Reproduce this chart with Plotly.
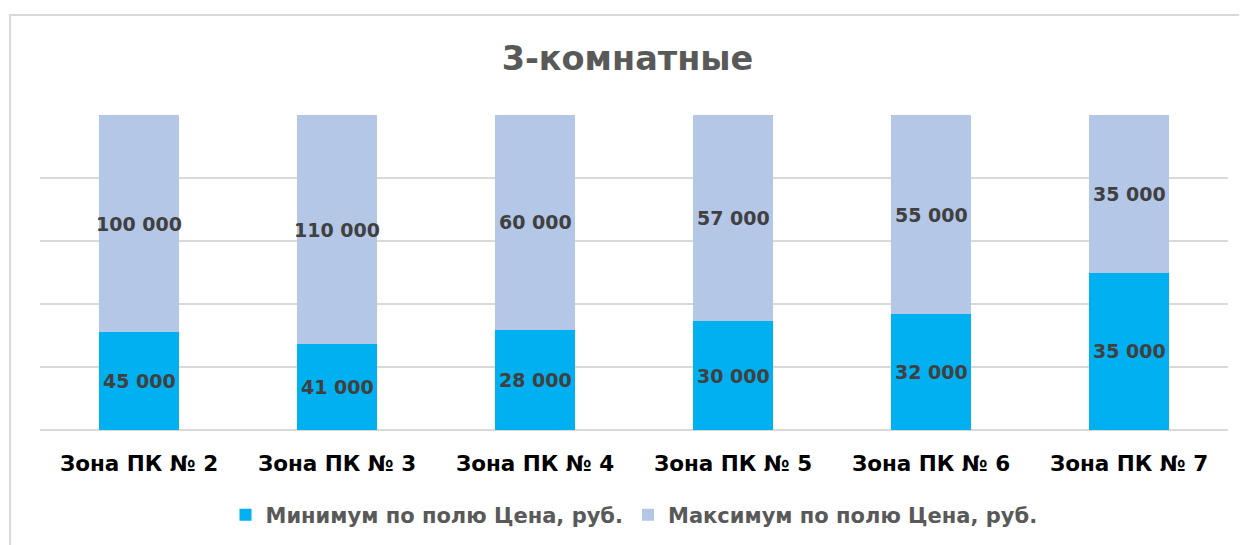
import plotly.graph_objects as go

categories = ["Зона ПК № 2", "Зона ПК № 3", "Зона ПК № 4", "Зона ПК № 5", "Зона ПК № 6", "Зона ПК № 7"]
min_price = [45000, 41000, 28000, 30000, 32000, 35000]
max_price = [100000, 110000, 60000, 57000, 55000, 35000]
series_names = ["Минимум по полю Цена, руб.", "Максимум по полю Цена, руб."]
title_text = "3-комнатные"

FONT = "'DejaVu Sans', sans-serif"

def fmt(v):
    return f"{v:,}".replace(",", " ")

fig = go.Figure()
fig.add_trace(go.Bar(x=categories, y=min_price, name=series_names[0],
                     marker=dict(color="#00B0F0", line=dict(width=0)), width=0.4))
fig.add_trace(go.Bar(x=categories, y=max_price, name=series_names[1],
                     marker=dict(color="#B4C7E7", line=dict(width=0)), width=0.4))

annotations = []
for c, lo, hi in zip(categories, min_price, max_price):
    p = lo / (lo + hi) * 100
    annotations.append(dict(x=c, y=p / 2, text=fmt(lo), showarrow=False,
                            font=dict(family=FONT, size=19, color="#404040", weight="bold")))
    annotations.append(dict(x=c, y=p + (100 - p) / 2, text=fmt(hi), showarrow=False,
                            font=dict(family=FONT, size=19, color="#404040", weight="bold")))

W, H = 1239, 537
fig.update_layout(
    barmode="stack", barnorm="percent",
    width=W, height=H,
    margin=dict(l=32, r=19, t=107, b=115, autoexpand=False),
    paper_bgcolor="white", plot_bgcolor="white",
    title=dict(text=title_text, x=0.5, xanchor="center", y=1 - 50 / H, yanchor="middle",
               font=dict(family=FONT, size=33.5, color="#595959", weight="bold")),
    xaxis=dict(showline=False, ticks="", ticklabelstandoff=18,
               tickfont=dict(family=FONT, size=21.5, color="#000000", weight="bold")),
    yaxis=dict(range=[0, 100], dtick=20, showticklabels=False, gridcolor="#D9D9D9", gridwidth=1.5,
               zeroline=True, zerolinecolor="#D9D9D9", zerolinewidth=1.5),
    legend=dict(orientation="h", x=0.5, xanchor="center", y=-0.27, yanchor="middle",
                font=dict(family=FONT, size=21, color="#595959", weight="bold"), traceorder="normal"),
    annotations=annotations,
    showlegend=True,
)
fig.add_shape(type="rect", xref="paper", yref="paper",
              x0=(2 - 32) / 1188, x1=1.2, y0=-1, y1=(422 - 7) / 315,
              line=dict(color="#D9D9D9", width=2), fillcolor="rgba(0,0,0,0)", layer="below")

fig.write_html("out.html")
